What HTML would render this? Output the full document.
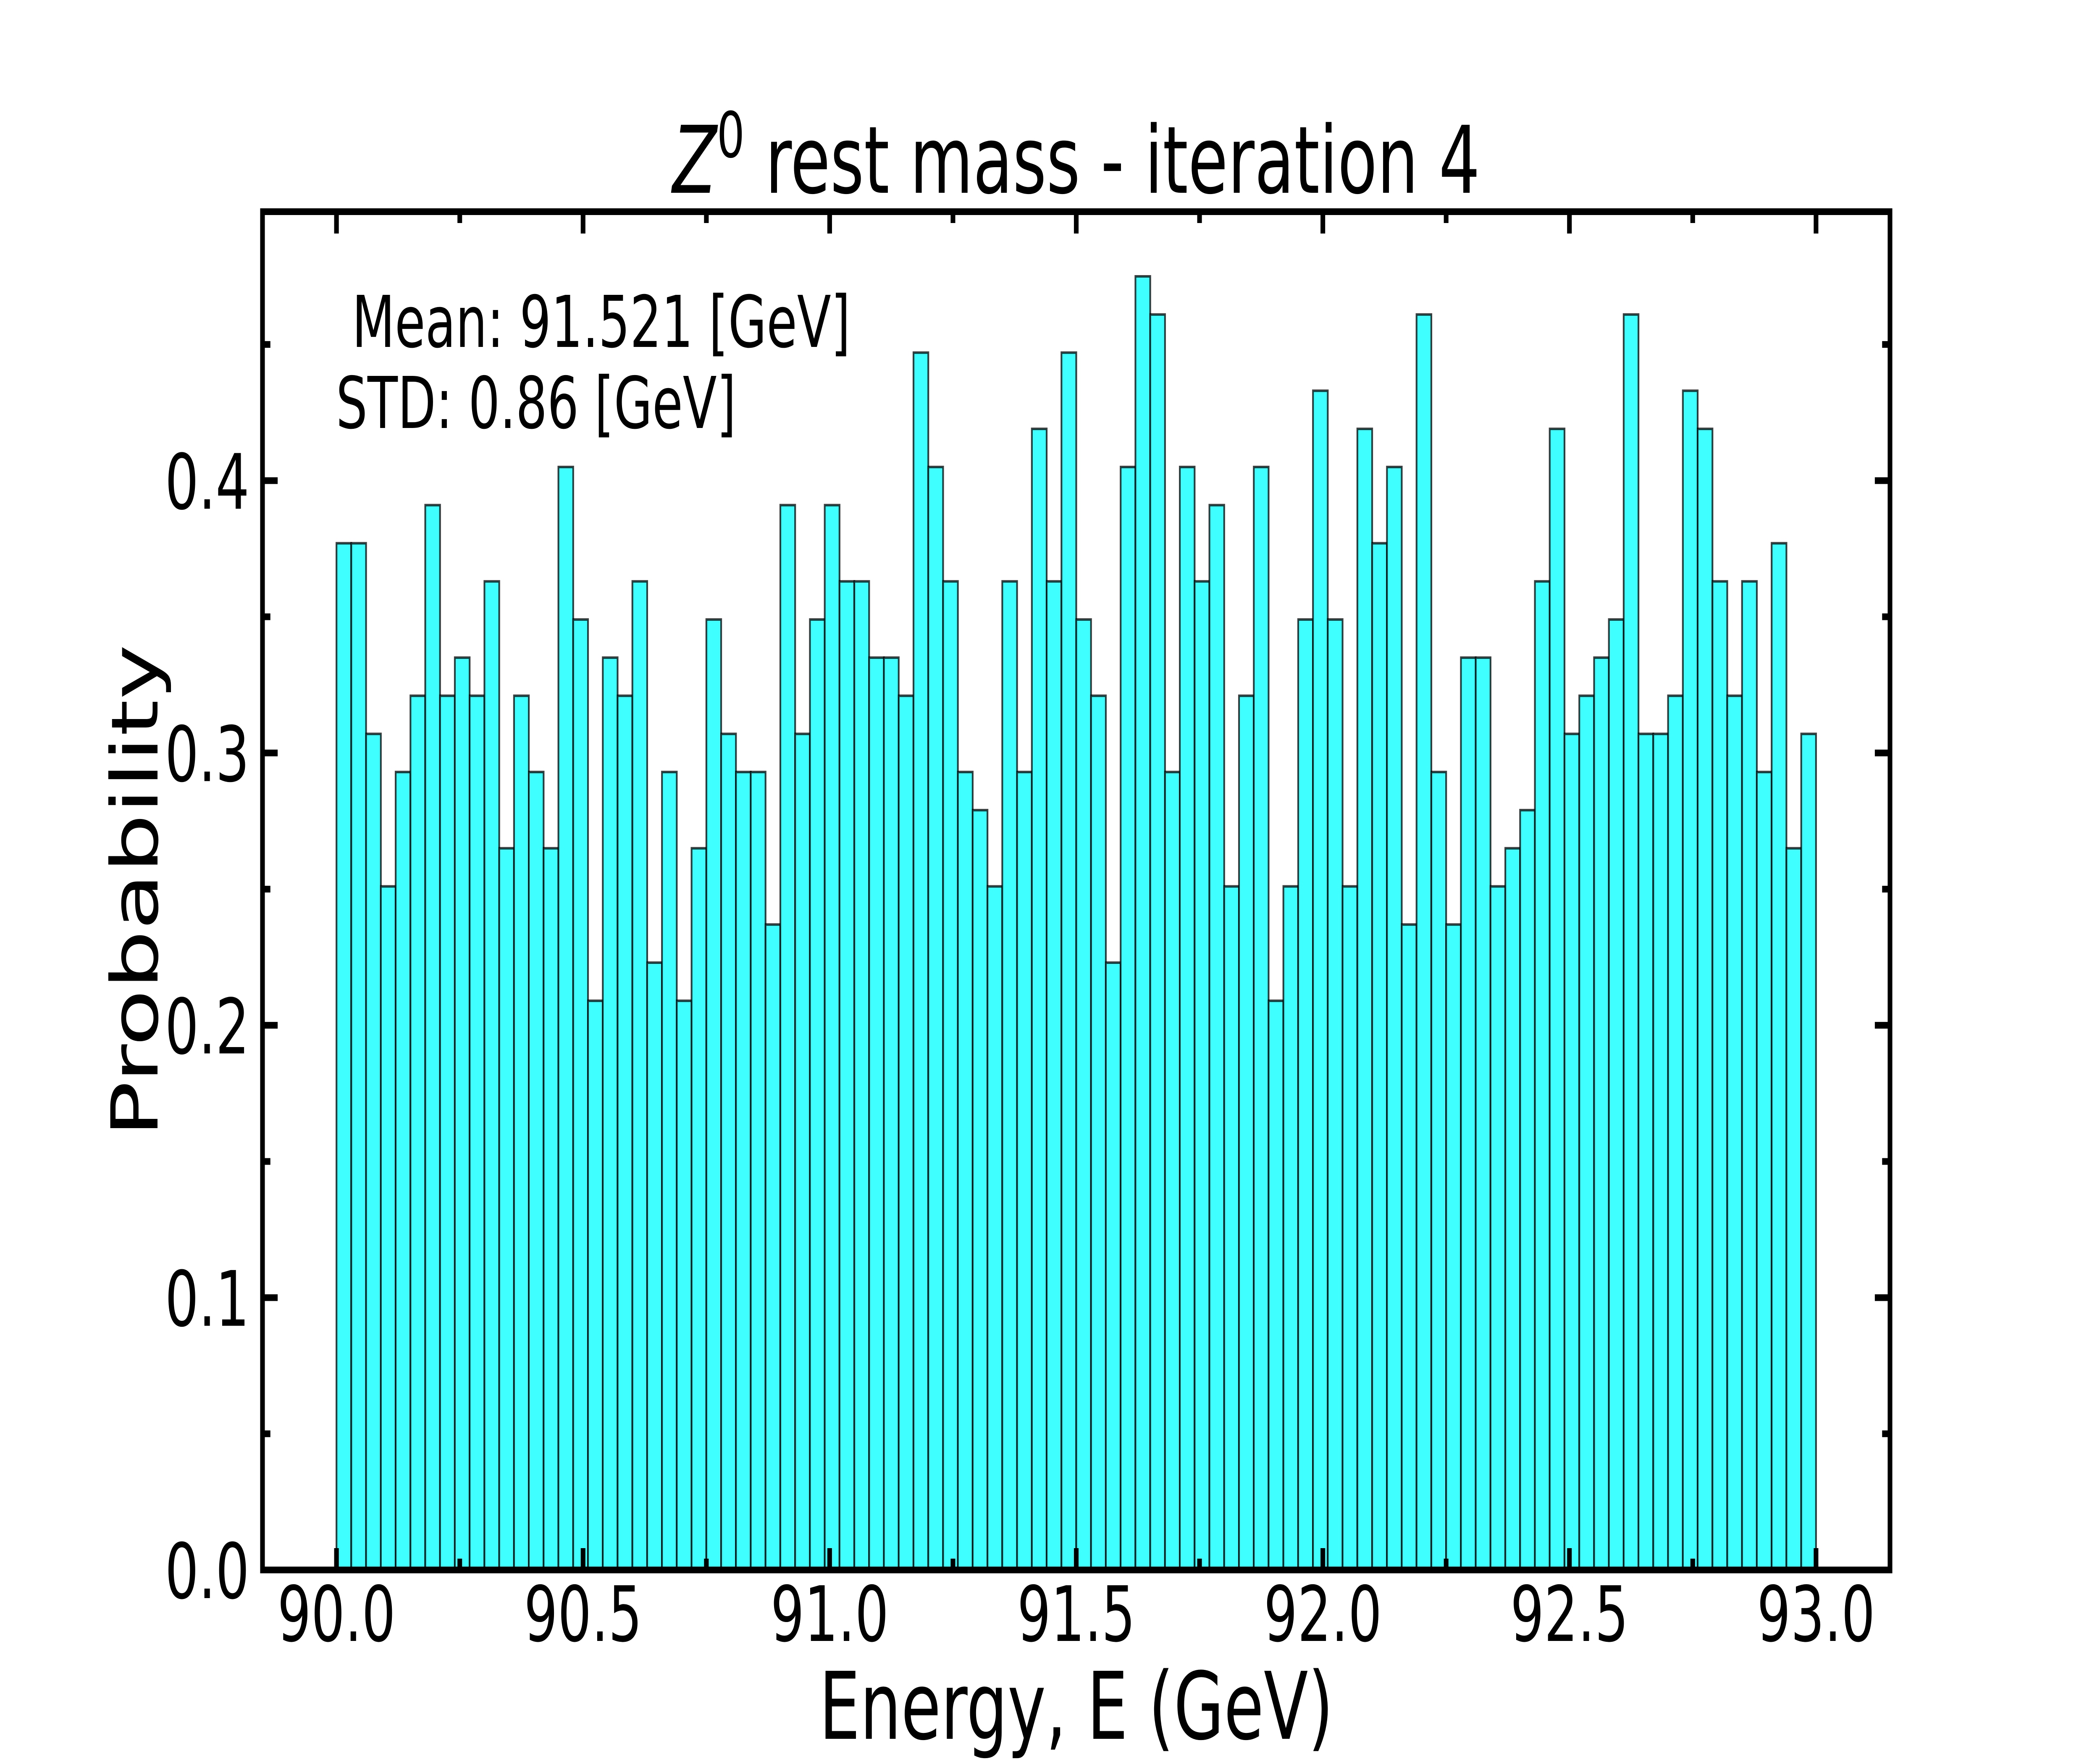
<!DOCTYPE html>
<html><head><meta charset="utf-8"><style>
html,body{margin:0;padding:0;background:#fff;width:100%;height:100%;overflow:hidden;}
svg{display:block;width:100vw;height:100vh;}
text{font-family:"DejaVu Sans","Liberation Sans",sans-serif;fill:#000;}
</style></head><body>
<svg id="chart" viewBox="0 0 7200 4200" preserveAspectRatio="none" xmlns="http://www.w3.org/2000/svg">
<rect x="0" y="0" width="7200" height="4200" fill="#fff"/>
<g id="bars"></g>
<g id="ticks"></g>
<rect x="900" y="504" width="5580" height="3234" fill="none" stroke="#000" stroke-width="16"/>
<text x="3690" y="459" font-size="222" text-anchor="middle"><tspan font-style="italic">Z</tspan><tspan font-size="150" dy="-85">0</tspan><tspan dy="85"> rest mass - iteration 4</tspan></text>
<text x="3690" y="4140" font-size="222" text-anchor="middle">Energy, E (GeV)</text>
<text x="0" y="0" font-size="222" text-anchor="middle" transform="translate(540,2121) rotate(-90)">Probability</text>
<text x="1207" y="826" font-size="170">Mean: 91.521 [GeV]</text>
<text x="1152" y="1019" font-size="170">STD: 0.86 [GeV]</text>
</svg>
<script>
const binStart = 90.0;
const binWidth = 0.03;
const probabilities = [
0.377,0.377,0.307,0.251,0.293,0.321,0.391,0.321,0.335,0.321,
0.363,0.265,0.321,0.293,0.265,0.405,0.349,0.209,0.335,0.321,
0.363,0.223,0.293,0.209,0.265,0.349,0.307,0.293,0.293,0.237,
0.391,0.307,0.349,0.391,0.363,0.363,0.335,0.335,0.321,0.447,
0.405,0.363,0.293,0.279,0.251,0.363,0.293,0.419,0.363,0.447,
0.349,0.321,0.223,0.405,0.475,0.461,0.293,0.405,0.363,0.391,
0.251,0.321,0.405,0.209,0.251,0.349,0.433,0.349,0.251,0.419,
0.377,0.405,0.237,0.461,0.293,0.237,0.335,0.335,0.251,0.265,
0.279,0.363,0.419,0.307,0.321,0.335,0.349,0.461,0.307,0.307,
0.321,0.433,0.419,0.363,0.321,0.363,0.293,0.377,0.265,0.307];
const xTickValues = [90.0,90.5,91.0,91.5,92.0,92.5,93.0];
const xTickLabels = ["90.0","90.5","91.0","91.5","92.0","92.5","93.0"];
const xMinorValues = [90.25,90.75,91.25,91.75,92.25,92.75];
const yTickValues = [0.0,0.1,0.2,0.3,0.4];
const yTickLabels = ["0.0","0.1","0.2","0.3","0.4"];
const yMinorValues = [0.05,0.15,0.25,0.35,0.45];

const NS = "http://www.w3.org/2000/svg";
const L = 900, R = 6480, T = 504, B = 3738;
const xMin = 89.85, xMax = 93.15, yMin = 0, yMax = 0.49875;
function xs(v){ return L + (v - xMin) / (xMax - xMin) * (R - L); }
function ys(v){ return B - (v - yMin) / (yMax - yMin) * (B - T); }
function mk(tag, attrs, parent){
  const e = document.createElementNS(NS, tag);
  for (const k in attrs) e.setAttribute(k, attrs[k]);
  parent.appendChild(e);
  return e;
}
const barsG = document.getElementById('bars');
probabilities.forEach((p, i) => {
  const x0 = xs(binStart + i * binWidth), x1 = xs(binStart + (i + 1) * binWidth);
  const r = mk('rect', {x: x0, y: ys(p), width: x1 - x0, height: ys(0) - ys(p),
    fill: '#40ffff', stroke: 'rgba(0,0,0,0.75)', 'stroke-width': 6}, barsG);
  
  
});
const tg = document.getElementById('ticks');
const MAJ = 52, MIN = 27, TW = 16;
xTickValues.forEach((v, i) => {
  const x = xs(v);
  const a = mk('line', {x1: x, x2: x, y1: B, y2: B - MAJ, stroke: '#000', 'stroke-width': TW}, tg);
  
  
  const b = mk('line', {x1: x, x2: x, y1: T, y2: T + MAJ, stroke: '#000', 'stroke-width': TW}, tg);
  
  
  const t = mk('text', {x: x, y: 3907, 'font-size': 182, 'text-anchor': 'middle'}, tg);
  t.textContent = xTickLabels[i];
  
  
});
xMinorValues.forEach(v => {
  const x = xs(v);
  const a = mk('line', {x1: x, x2: x, y1: B, y2: B - MIN, stroke: '#000', 'stroke-width': TW}, tg);
  
  
  const b = mk('line', {x1: x, x2: x, y1: T, y2: T + MIN, stroke: '#000', 'stroke-width': TW}, tg);
  
  
});
yTickValues.forEach((v, i) => {
  const y = ys(v);
  const a = mk('line', {x1: L, x2: L + MAJ, y1: y, y2: y, stroke: '#000', 'stroke-width': TW}, tg);
  
  
  const b = mk('line', {x1: R, x2: R - MAJ, y1: y, y2: y, stroke: '#000', 'stroke-width': TW}, tg);
  
  
  const t = mk('text', {x: 855, y: y + 67, 'font-size': 182, 'text-anchor': 'end'}, tg);
  t.textContent = yTickLabels[i];
  
  
});
yMinorValues.forEach(v => {
  const y = ys(v);
  const a = mk('line', {x1: L, x2: L + MIN, y1: y, y2: y, stroke: '#000', 'stroke-width': TW}, tg);
  
  
  const b = mk('line', {x1: R, x2: R - MIN, y1: y, y2: y, stroke: '#000', 'stroke-width': TW}, tg);
  
  
});
</script>
</body></html>
